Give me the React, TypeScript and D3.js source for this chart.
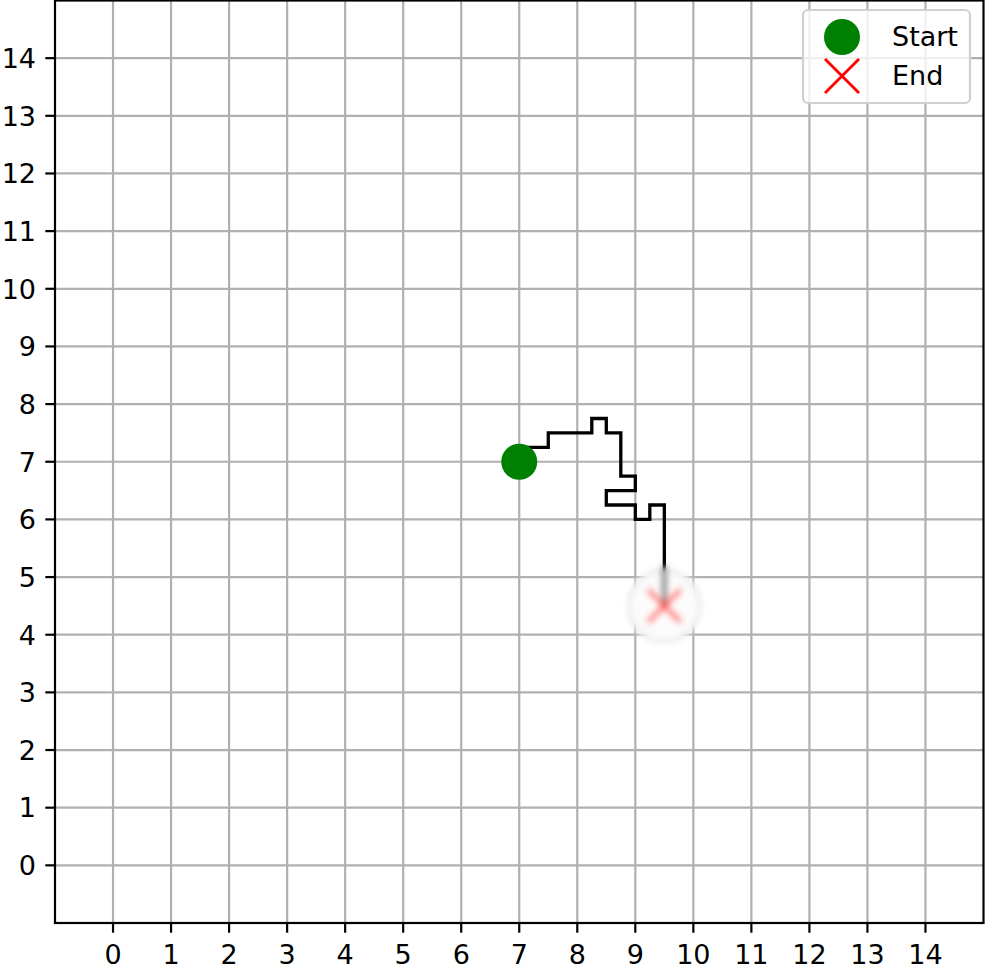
import React from "react";
import * as d3 from "d3";

// path of the walker (grid steps of 0.25)
const pathX = [7, 7, 7.5, 7.5, 8.25, 8.25, 8.5, 8.5, 8.75, 8.75, 9, 9, 8.5, 8.5, 9, 9, 9.25, 9.25, 9.5, 9.5];
const pathY = [7, 7.25, 7.25, 7.5, 7.5, 7.75, 7.75, 7.5, 7.5, 6.75, 6.75, 6.5, 6.5, 6.25, 6.25, 6, 6, 6.25, 6.25, 4.5];
const startPt = [7, 7];
const endPt = [9.5, 4.5];
const ticks = d3.range(0, 15);
const legendLabels = ["Start", "End"];

const W = 985;
const H = 971;
const margin = { left: 55, right: 1.5, top: 0.5, bottom: 48 };
const FONT = "DejaVu Sans, sans-serif";

export default function App() {
  const x = d3.scaleLinear().domain([-1, 15]).range([margin.left, W - margin.right]);
  const y = d3.scaleLinear().domain([-1, 15]).range([H - margin.bottom, margin.top]);
  const pts = pathX.map((v, i) => [v, pathY[i]] as [number, number]);
  const line = d3.line<[number, number]>().x(d => x(d[0])).y(d => y(d[1]));

  const x0 = x(-1), x1 = x(15), y0 = y(-1), y1 = y(15);
  const ex = x(endPt[0]), ey = y(endPt[1]);
  const xs = 16;

  return (
    <svg width={W} height={H} style={{ position: "absolute", left: 0, top: 0 }}>
      <defs>
        <clipPath id="plot">
          <rect x={x0} y={y1} width={x1 - x0} height={y0 - y1} />
        </clipPath>
        <filter id="blur" x="-50%" y="-50%" width="200%" height="200%">
          <feGaussianBlur stdDeviation="2.5" />
        </filter>
        <filter id="blurX" x="-50%" y="-50%" width="200%" height="200%">
          <feGaussianBlur stdDeviation="3" />
        </filter>
        <radialGradient id="disc">
          <stop offset="0%" stopColor="#ffffff" />
          <stop offset="80%" stopColor="#fbfbfb" />
          <stop offset="100%" stopColor="#eaeaea" />
        </radialGradient>
      </defs>
      <rect x={0} y={0} width={W} height={H} fill="#fff" />
      {/* grid */}
      <g stroke="#b0b0b0" strokeWidth={2.2}>
        {ticks.map(t => (
          <line key={"gx" + t} x1={x(t)} x2={x(t)} y1={y0} y2={y1} />
        ))}
        {ticks.map(t => (
          <line key={"gy" + t} x1={x0} x2={x1} y1={y(t)} y2={y(t)} />
        ))}
      </g>
      <g clipPath="url(#plot)">
        <path d={line(pts) || ""} fill="none" stroke="#000" strokeWidth={3.3} strokeLinejoin="miter" />
        <circle cx={x(startPt[0])} cy={y(startPt[1])} r={18} fill="#008000" />
        {/* blurred end marker */}
        <circle cx={ex} cy={ey} r={38} fill="url(#disc)" filter="url(#blur)" />
        <g filter="url(#blurX)">
          <line x1={ex} x2={ex} y1={y(5.2)} y2={ey} stroke="#666" strokeWidth={4} />
          <line x1={ex - xs} x2={ex + xs} y1={ey - xs} y2={ey + xs} stroke="#ff3030" strokeWidth={4} opacity={0.75} />
          <line x1={ex - xs} x2={ex + xs} y1={ey + xs} y2={ey - xs} stroke="#ff3030" strokeWidth={4} opacity={0.75} />
        </g>
      </g>
      {/* spines */}
      <rect x={x0} y={y1} width={x1 - x0} height={y0 - y1} fill="none" stroke="#000" strokeWidth={2.2} />
      {/* ticks */}
      <g fontFamily={FONT} fontSize={27} fill="#000">
        {ticks.map(t => (
          <g key={"tx" + t}>
            <line x1={x(t)} x2={x(t)} y1={y0} y2={y0 + 9.7} stroke="#000" strokeWidth={2.2} />
            <text x={x(t)} y={y0 + 41} textAnchor="middle">{t}</text>
          </g>
        ))}
        {ticks.map(t => (
          <g key={"ty" + t}>
            <line x1={x0} x2={x0 - 9.7} y1={y(t)} y2={y(t)} stroke="#000" strokeWidth={2.2} />
            <text x={x0 - 19} y={y(t) + 9.8} textAnchor="end">{t}</text>
          </g>
        ))}
      </g>
      {/* legend */}
      <g>
        <rect x={803} y={10} width={167} height={93} rx={5} fill="#fff" fillOpacity={0.8} stroke="#d0d0d0" strokeWidth={2.2} />
        <circle cx={842} cy={37} r={18} fill="#008000" />
        <line x1={825} x2={859} y1={59} y2={93} stroke="#f00" strokeWidth={2.8} />
        <line x1={825} x2={859} y1={93} y2={59} stroke="#f00" strokeWidth={2.8} />
        <text x={892} y={46} fontFamily={FONT} fontSize={27}>{legendLabels[0]}</text>
        <text x={892} y={85} fontFamily={FONT} fontSize={27}>{legendLabels[1]}</text>
      </g>
    </svg>
  );
}
